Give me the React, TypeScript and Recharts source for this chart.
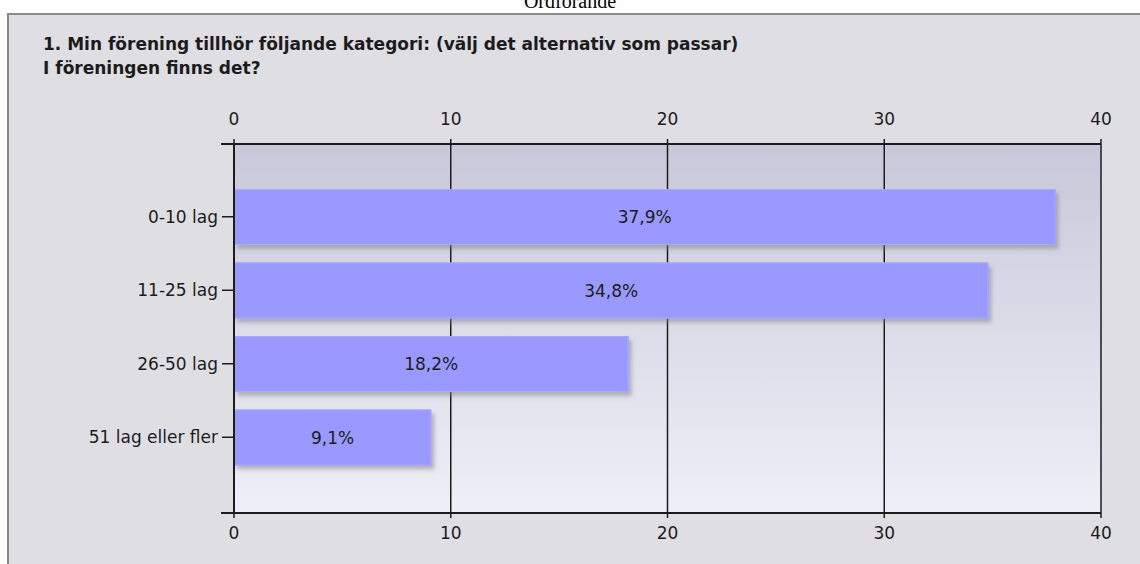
import React from "react";
import {
  BarChart,
  Bar,
  XAxis,
  YAxis,
  CartesianGrid,
  LabelList,
} from "recharts";

const categories = ["0-10 lag", "11-25 lag", "26-50 lag", "51 lag eller fler"];
const values = [37.9, 34.8, 18.2, 9.1];
const xTicks = [0, 10, 20, 30, 40];
const xDomain: [number, number] = [0, 40];
const headerTitle = "Ordförande";
const titleLines = [
  "1. Min förening tillhör följande kategori: (välj det alternativ som passar)",
  "I föreningen finns det?",
];

const data = categories.map((c, i) => ({ category: c, value: values[i] }));

const FONT = "'DejaVu Sans', Verdana, sans-serif";
const INK = "#1c1c1c";
const X_TICK_SIZE = 5;
const TOP_MARGIN = 14;
const BOTTOM_MARGIN = 9;
const Y_TICK_SIZE = 12;

const ShadowBar = (props: any) => {
  const { x, y, width, height, fill } = props;
  if (width == null || height == null) return null;
  return (
    <g>
      <rect x={x} y={y} width={width} height={height} fill={fill} filter="url(#barShadow)" />
      <rect
        x={x + 0.5}
        y={y + 0.5}
        width={Math.max(0, width - 1)}
        height={Math.max(0, height - 1)}
        fill="none"
        stroke="#a9a9ff"
        strokeWidth={1}
      />
    </g>
  );
};

const XTick = (props: any) => {
  const { x, y, payload, orient } = props;
  const isTop = orient === "top";
  const axisY = isTop ? y + X_TICK_SIZE + TOP_MARGIN : y - X_TICK_SIZE - BOTTOM_MARGIN;
  return (
    <g>
      <text
        x={x}
        y={y}
        dy={isTop ? 0 : "0.71em"}
        textAnchor="middle"
        fill={INK}
        fontSize={17}
        fontFamily={FONT}
      >
        {payload.value}
      </text>
      {payload.value === xDomain[0] && (
        <line x1={x - Y_TICK_SIZE - 1} x2={x} y1={axisY} y2={axisY} stroke={INK} strokeWidth={2} />
      )}
    </g>
  );
};

const fmt = (v: any) => `${String(v).replace(".", ",")}%`;

export default function App() {
  return (
    <div style={{ position: "absolute", left: 0, top: 0, width: 1140, height: 564, overflow: "hidden", background: "#ffffff" }}>
      <div
        style={{
          position: "absolute",
          left: 7,
          top: 13,
          width: 1133,
          height: 551,
          background: "#dfdee3",
          borderTop: "2px solid #8a8a8a",
          borderLeft: "2px solid #8a8a8a",
          boxSizing: "border-box",
        }}
      />
      <svg width={1140} height={90} style={{ position: "absolute", left: 0, top: 0 }}>
        <text x={570} y={8} textAnchor="middle" fontFamily="'Liberation Serif', 'Times New Roman', serif" fontSize={20} fill="#000">
          {headerTitle}
        </text>
        <text x={43} y={49.5} fontFamily={FONT} fontWeight="bold" fontSize={17} fill={INK}>
          {titleLines[0]}
        </text>
        <text x={43} y={74} fontFamily={FONT} fontWeight="bold" fontSize={17} fill={INK}>
          {titleLines[1]}
        </text>
      </svg>
      <div style={{ position: "absolute", left: 0, top: 0 }}>
        <BarChart
          width={1140}
          height={564}
          data={data}
          layout="vertical"
          margin={{ top: 0, right: 39, bottom: 0, left: 0 }}
        >
          <defs>
            <linearGradient id="plotGrad" x1="0" y1="0" x2="0" y2="1">
              <stop offset="0%" stopColor="#c9c8da" />
              <stop offset="100%" stopColor="#efeff7" />
            </linearGradient>
            <filter id="barShadow" x="-5%" y="-20%" width="115%" height="160%">
              <feDropShadow dx="3" dy="4" stdDeviation="2" floodColor="#7a7a7a" floodOpacity="0.5" />
            </filter>
          </defs>
          <CartesianGrid
            xAxisId="bottom"
            horizontal={false}
            vertical
            fill="url(#plotGrad)"
            fillOpacity={1}
            stroke={INK}
            strokeWidth={1.5}
          />
          <XAxis
            xAxisId="top"
            orientation="top"
            type="number"
            domain={xDomain}
            allowDataOverflow
            ticks={xTicks}
            interval={0}
            height={144}
            tickSize={X_TICK_SIZE}
            tickMargin={TOP_MARGIN}
            axisLine={{ stroke: INK, strokeWidth: 2 }}
            tickLine={{ stroke: INK, strokeWidth: 1.5 }}
            tick={<XTick orient="top" />}
          />
          <XAxis
            xAxisId="bottom"
            orientation="bottom"
            type="number"
            domain={xDomain}
            allowDataOverflow
            ticks={xTicks}
            interval={0}
            height={51}
            tickSize={X_TICK_SIZE}
            tickMargin={BOTTOM_MARGIN}
            axisLine={{ stroke: INK, strokeWidth: 2 }}
            tickLine={{ stroke: INK, strokeWidth: 1.5 }}
            tick={<XTick orient="bottom" />}
          />
          <YAxis
            type="category"
            dataKey="category"
            width={234}
            tickSize={Y_TICK_SIZE}
            tickMargin={4}
            padding={{ top: 36, bottom: 39 }}
            interval={0}
            axisLine={{ stroke: INK, strokeWidth: 2 }}
            tickLine={{ stroke: INK, strokeWidth: 1.5 }}
            tick={{ fill: INK, fontSize: 17, fontFamily: FONT }}
          />
          <Bar
            xAxisId="bottom"
            dataKey="value"
            fill="#9999ff"
            barSize={56}
            shape={<ShadowBar />}
            isAnimationActive={false}
          >
            <LabelList
              dataKey="value"
              position="center"
              formatter={fmt}
              fill={INK}
              fontSize={17}
              fontFamily={FONT}
            />
          </Bar>
        </BarChart>
      </div>
    </div>
  );
}
